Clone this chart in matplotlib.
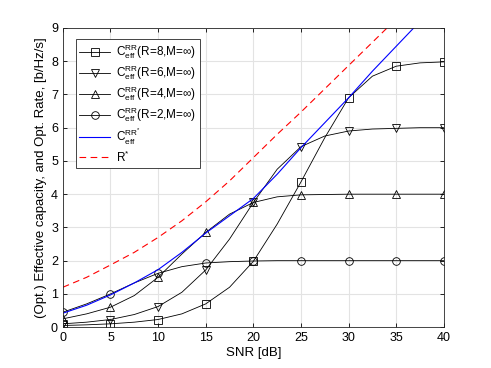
import matplotlib
matplotlib.use("Agg")
import matplotlib.pyplot as plt
import numpy as np

plt.rcParams['font.family'] = ['Liberation Sans', 'DejaVu Sans']
plt.rcParams['mathtext.fontset'] = 'custom'
plt.rcParams['mathtext.rm'] = 'Liberation Sans'
plt.rcParams['mathtext.it'] = 'Liberation Sans'

# SNR grid (dB), markers every 5 dB
snr = [0, 2.5, 5, 7.5, 10, 12.5, 15, 17.5, 20, 22.5, 25, 27.5, 30, 32.5, 35, 37.5, 40]

c_r8 = [0.05, 0.07, 0.1, 0.15, 0.23, 0.4, 0.7, 1.2, 1.98, 3.1, 4.37, 5.7, 6.9, 7.55, 7.85, 7.95, 7.98]
c_r6 = [0.1, 0.15, 0.23, 0.38, 0.62, 1.05, 1.72, 2.65, 3.75, 4.75, 5.43, 5.75, 5.9, 5.96, 5.98, 6.0, 6.0]
c_r4 = [0.25, 0.4, 0.6, 0.95, 1.5, 2.2, 2.85, 3.4, 3.75, 3.92, 3.98, 3.99, 4.0, 4.0, 4.0, 4.0, 4.0]
c_r2 = [0.45, 0.7, 1.0, 1.33, 1.62, 1.82, 1.93, 1.97, 1.99, 2.0, 2.0, 2.0, 2.0, 2.0, 2.0, 2.0, 2.0]
c_opt = [0.42, 0.66, 0.97, 1.33, 1.73, 2.25, 2.83, 3.35, 3.87, 4.6, 5.4, 6.15, 6.9, 7.7, 8.45, 9.2, 9.95]
r_opt = [1.2, 1.5, 1.87, 2.25, 2.7, 3.2, 3.77, 4.4, 5.1, 5.8, 6.47, 7.17, 7.87, 8.57, 9.27, 9.97, 10.67]

labels = [r'$\mathrm{C}_{\mathrm{eff}}^{\mathrm{RR}}$(R=8,M=$\infty$)',
          r'$\mathrm{C}_{\mathrm{eff}}^{\mathrm{RR}}$(R=6,M=$\infty$)',
          r'$\mathrm{C}_{\mathrm{eff}}^{\mathrm{RR}}$(R=4,M=$\infty$)',
          r'$\mathrm{C}_{\mathrm{eff}}^{\mathrm{RR}}$(R=2,M=$\infty$)',
          r'$\mathrm{C}_{\mathrm{eff}}^{\mathrm{RR^{*}}}$',
          r'$\mathrm{R}^{*}$']

fig = plt.figure(figsize=(4.91, 3.68), dpi=100)
ax = fig.add_axes([0.128, 0.111, 0.776, 0.813])

for vals, mk, lab in zip([c_r8, c_r6, c_r4, c_r2], ['s', 'v', '^', 'o'], labels[:4]):
    ax.plot(snr, vals, '-', color='k', lw=0.6, marker=mk, markevery=2,
            markersize=5.5, markerfacecolor='none', markeredgewidth=0.6, label=lab)
ax.plot(snr, c_opt, '-', color='blue', lw=0.8, label=labels[4])
ax.plot(snr, r_opt, '--', color='red', lw=0.8, dashes=(6, 4), label=labels[5])

ax.set_xlim(0, 40)
ax.set_ylim(0, 9)
ax.set_xticks(np.arange(0, 41, 5))
ax.set_yticks(np.arange(0, 10, 1))
ax.grid(True, color='#e3e3e3', lw=0.8)
ax.set_axisbelow(True)
ax.tick_params(direction='in', top=True, right=True, labelsize=9, length=3, width=0.6)
for s in ax.spines.values():
    s.set_linewidth(0.6)
    s.set_color('#262626')
ax.set_xlabel('SNR [dB]', fontsize=9.5, labelpad=2)
ax.set_ylabel('(Opt.) Effective capacity, and Opt. Rate, [b/Hz/s]', fontsize=9.5, labelpad=3)

leg = ax.legend(loc='upper left', bbox_to_anchor=(0.034, 0.963), fontsize=8.5,
                handlelength=2.6, handletextpad=0.5, labelspacing=0.2, borderpad=0.3,
                borderaxespad=0, fancybox=False, edgecolor='#262626', framealpha=1)
leg.get_frame().set_linewidth(0.6)

plt.savefig('out.png', dpi=100)
